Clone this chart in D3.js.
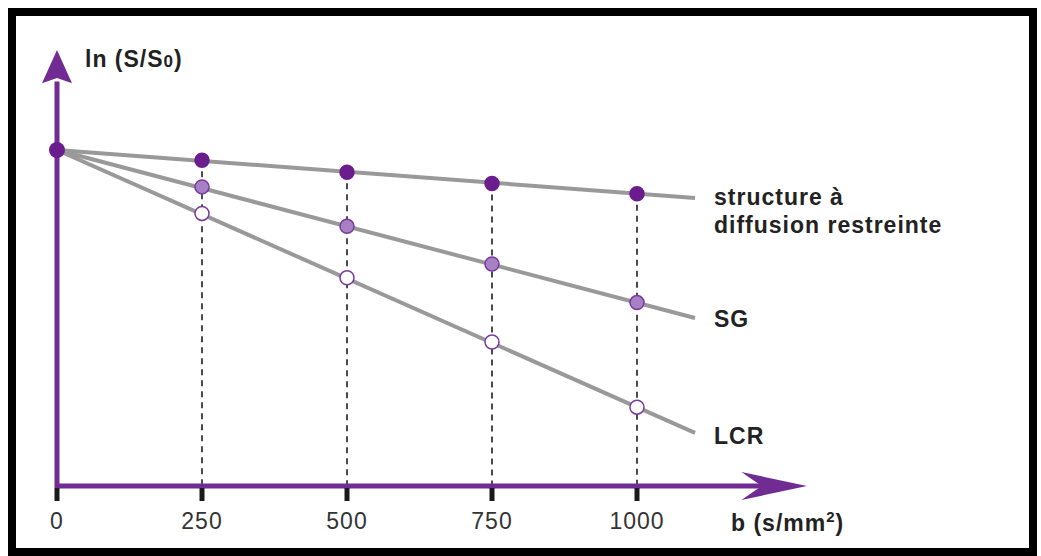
<!DOCTYPE html>
<html>
<head>
<meta charset="utf-8">
<script src="https://cdn.jsdelivr.net/npm/d3@7"></script>
<style>
  body { margin: 0; background: #fff; }
  text { font-family: "Liberation Sans", Arial, sans-serif; fill: #222; }
</style>
</head>
<body>
<div id="chart"></div>
<script>
// b values (s/mm2) where signal was measured
const bValues = [0, 250, 500, 750, 1000];
const tickLabels = ["0", "250", "500", "750", "1000"];

// ln(S/S0) (arbitrary units)
const restreinte = [0, -0.12, -0.26, -0.39, -0.51];
const sg = [0, -0.43, -0.89, -1.33, -1.78];
const lcr = [0, -0.74, -1.49, -2.24, -3.0];

// where the fitted lines stop on the right
const lineEndB = 1100;
const lineEndValues = [-0.56, -1.96, -3.3];

const seriesNames = ["structure à|diffusion restreinte", "SG", "LCR"];

const W = 1041, H = 556;
const purple = "#702c93";

const svg = d3.select("#chart").append("svg")
  .attr("width", W)
  .attr("height", H);

// black frame
svg.append("rect")
  .attr("x", 12).attr("y", 12)
  .attr("width", W - 20).attr("height", H - 16)
  .attr("fill", "none")
  .attr("stroke", "#000")
  .attr("stroke-width", 8);

// scales
let x = d3.scaleLinear().domain([0, 1000]).range([57, 637]);
let y = d3.scaleLinear().domain([-3.92, 1.167]).range([486, 50]);

const axisY = y(-3.92);
const xEnd = x(1293);

// dashed guides from top series down to the x axis
svg.append("g")
  .selectAll("line")
  .data(bValues.slice(1))
  .join("line")
    .attr("x1", d => x(d))
    .attr("x2", d => x(d))
    .attr("y1", (d, i) => y(restreinte[i + 1]))
    .attr("y2", axisY)
    .attr("stroke", "#111")
    .attr("stroke-width", 1.5)
    .attr("stroke-dasharray", "6,5");

// axes (drawn as arrows)
svg.append("line")
  .attr("x1", x(0)).attr("x2", x(0))
  .attr("y1", axisY + 2).attr("y2", y(0.8))
  .attr("stroke", purple).attr("stroke-width", 5);

svg.append("path")
  .attr("d", d3.line()([[x(0), y(1.167)], [x(0) - 15, y(0.78)], [x(0), y(0.84)], [x(0) + 15, y(0.78)]]))
  .attr("fill", purple);

svg.append("line")
  .attr("x1", x(0)).attr("x2", x(1235))
  .attr("y1", axisY).attr("y2", axisY)
  .attr("stroke", purple).attr("stroke-width", 5);

svg.append("path")
  .attr("d", d3.line()([[xEnd, axisY], [x(1180), axisY - 14], [x(1215), axisY], [x(1180), axisY + 14]]))
  .attr("fill", purple);

// ticks
svg.append("g")
  .selectAll("rect")
  .data(bValues)
  .join("rect")
    .attr("x", d => x(d) - 2.5)
    .attr("y", axisY + 2)
    .attr("width", 5)
    .attr("height", 13)
    .attr("fill", "#1a1a1a");

svg.append("g")
  .selectAll("text")
  .data(bValues)
  .join("text")
    .attr("x", d => x(d))
    .attr("y", 529)
    .attr("text-anchor", "middle")
    .style("font-size", "23px")
    .style("letter-spacing", "1px")
    .style("fill", "#333")
    .text((d, i) => tickLabels[i]);

// axis titles
const xt = svg.append("text")
  .attr("x", 731).attr("y", 531)
  .style("font-size", "23px")
  .style("font-weight", "bold")
  .style("letter-spacing", "1px");
xt.append("tspan").text("b (s/mm");
xt.append("tspan").attr("dy", -9).style("font-size", "15px").text("2");
xt.append("tspan").attr("dy", 9).text(")");

const yt = svg.append("text")
  .attr("x", 85).attr("y", 67)
  .style("font-size", "23px")
  .style("font-weight", "bold")
  .style("letter-spacing", "1px");
yt.append("tspan").text("ln (S/S");
yt.append("tspan").style("font-size", "17px").text("0");
yt.append("tspan").text(")");

// regression lines
const allSeries = [restreinte, sg, lcr];
svg.append("g")
  .selectAll("line")
  .data(allSeries)
  .join("line")
    .attr("x1", x(0))
    .attr("y1", d => y(d[0]))
    .attr("x2", x(lineEndB))
    .attr("y2", (d, i) => y(lineEndValues[i]))
    .attr("stroke", "#999")
    .attr("stroke-width", 4);

// points
const pointStyles = [
  { fill: "#6b1d8e", stroke: "#6b1d8e" },
  { fill: "#a780c6", stroke: "#7a3a9e" },
  { fill: "#ffffff", stroke: "#7a3a9e" }
];

allSeries.forEach((vals, s) => {
  svg.append("g")
    .selectAll("circle")
    .data(vals.slice(1))
    .join("circle")
      .attr("cx", (d, i) => x(bValues[i + 1]))
      .attr("cy", d => y(d))
      .attr("r", 7)
      .attr("fill", pointStyles[s].fill)
      .attr("stroke", pointStyles[s].stroke)
      .attr("stroke-width", 1.5);
});

// shared origin point
svg.append("circle")
  .attr("cx", x(0))
  .attr("cy", y(0))
  .attr("r", 8)
  .attr("fill", "#6b1d8e");

// series labels
const labelY = [[205, 233], [327], [444]];
seriesNames.forEach((name, s) => {
  name.split("|").forEach((part, j) => {
    svg.append("text")
      .attr("x", 714)
      .attr("y", labelY[s][j])
      .style("font-size", "23px")
      .style("font-weight", "bold")
      .style("letter-spacing", "1px")
      .text(part);
  });
});
</script>
</body>
</html>
